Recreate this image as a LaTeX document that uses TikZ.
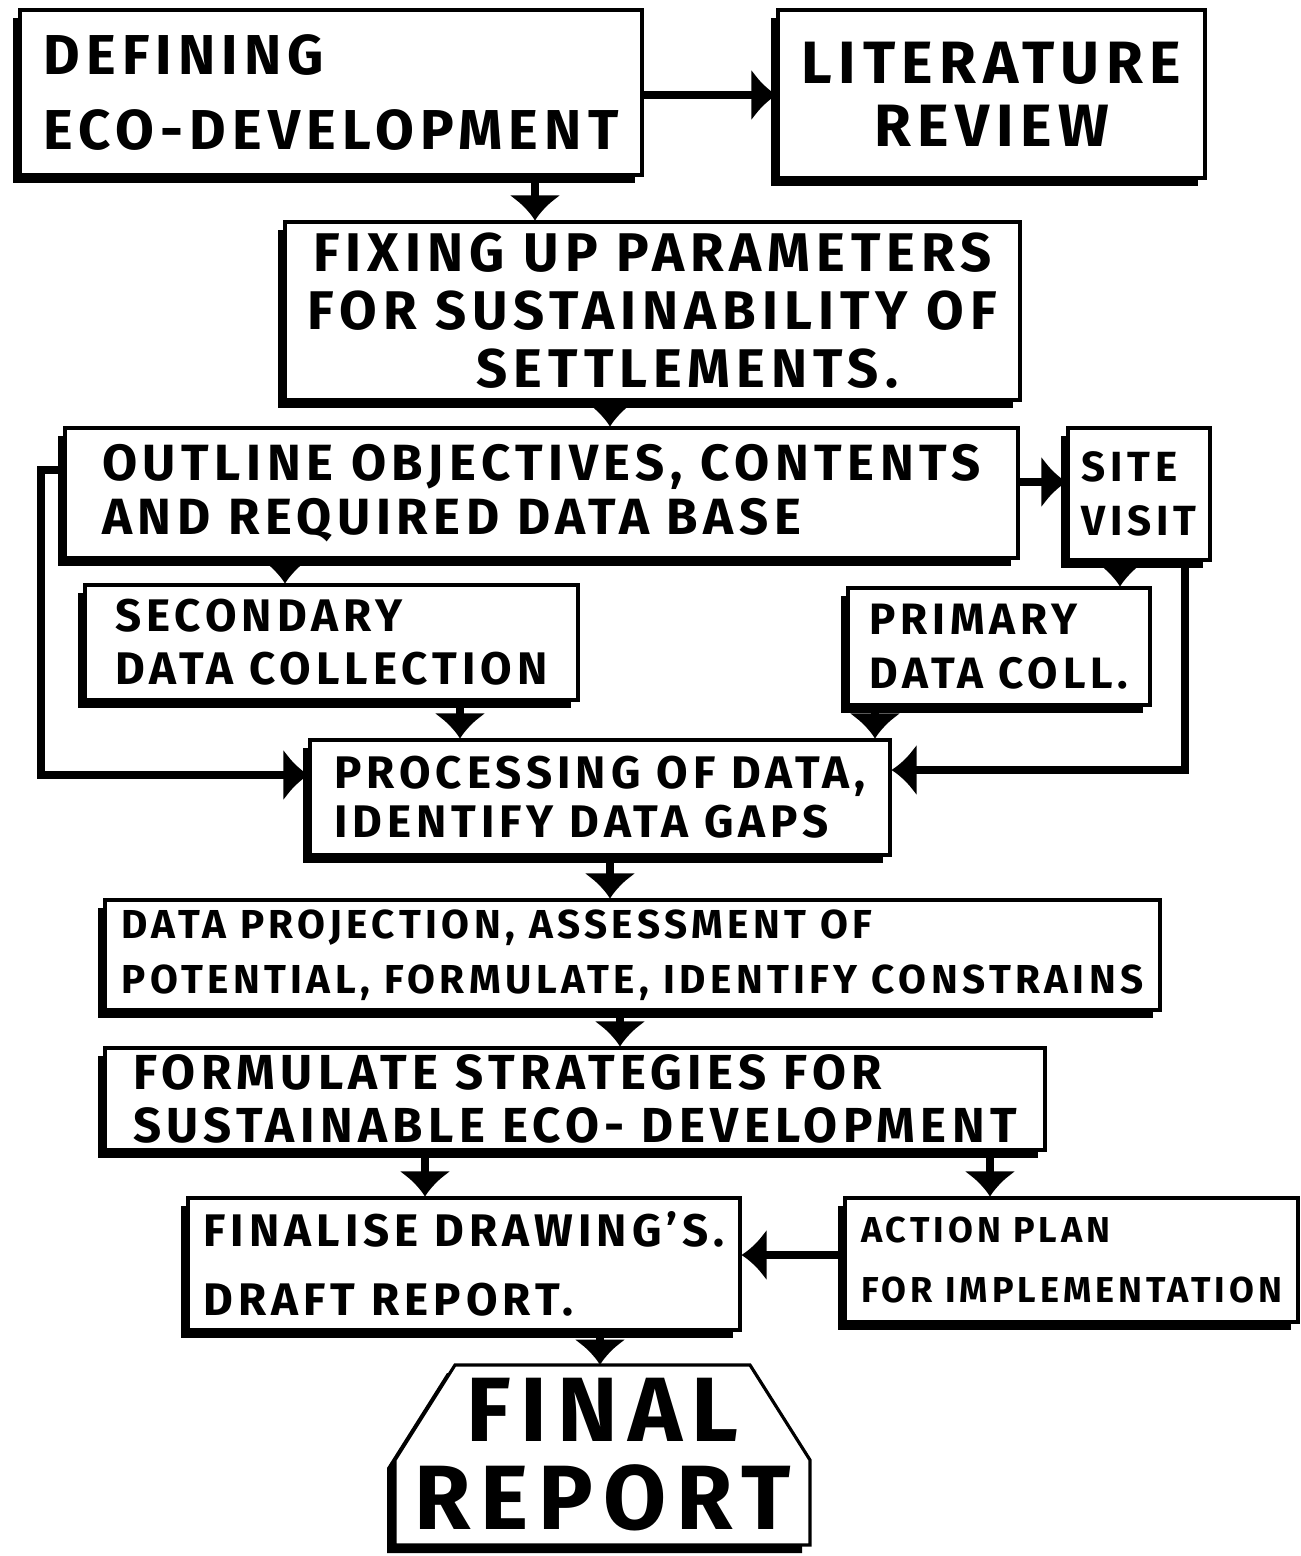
\documentclass[tikz,border=0pt]{standalone}
\usepackage{fontspec}
\setmainfont{Fira Sans}[LetterSpace=11]
\usepackage{tikz}
\usetikzlibrary{arrows.meta,shadows}

\begin{document}
\begin{tikzpicture}[
        stage/.style={draw, line width=1.8pt, fill=white, inner sep=0pt,
            drop shadow={shadow xshift=-0.14cm, shadow yshift=-0.16cm, opacity=1, fill=black}},
        flow/.style={line width=4.5pt, -{Latex[length=0.5cm,width=1.05cm]}}
    ]
        \useasboundingbox (0,0) rectangle (26.02,-31.12);
        \newcommand\Lsize[2]{\bfseries\fontsize{#1}{#2}\selectfont}
        \newcommand\Plate{(9.1,-27.3) -- (15.0,-27.3) -- (16.2,-29.2) -- (16.2,-30.9) -- (7.9,-30.9) -- (7.9,-29.2) -- cycle}

        \node[stage, minimum width=12.44cm, minimum height=3.3cm, align=left, font=\Lsize{32}{43}] (define) at (6.62,-1.85) {DEFINING\\ECO-DEVELOPMENT};
        \node[stage, minimum width=8.54cm, minimum height=3.36cm, align=center, font=\Lsize{34}{36}] (lit) at (19.83,-1.88) {LITERATURE\\REVIEW};
        \node[stage, minimum width=14.7cm, minimum height=3.56cm, align=center, font=\Lsize{31}{33}] (fix) at (13.05,-6.22) {FIXING UP PARAMETERS\\FOR SUSTAINABILITY OF\\\hspace*{1.4cm}SETTLEMENTS.};
        \node[stage, minimum width=19.06cm, minimum height=2.6cm, align=left, font=\Lsize{29}{31}] (outline) at (10.83,-9.86) {OUTLINE OBJECTIVES, CONTENTS\\AND REQUIRED DATA BASE};
        \node[stage, minimum width=2.84cm, minimum height=2.64cm, align=left, font=\Lsize{24}{31}] (site) at (22.78,-9.88) {SITE\\VISIT};
        \node[stage, minimum width=9.86cm, minimum height=2.3cm, align=left, font=\Lsize{26}{30}] (second) at (6.63,-12.85) {SECONDARY\\DATA COLLECTION};
        \node[stage, minimum width=6.04cm, minimum height=2.34cm, align=left, font=\Lsize{25}{31}] (primary) at (19.98,-12.93) {PRIMARY\\DATA COLL.};
        \node[stage, minimum width=11.6cm, minimum height=2.3cm, align=left, font=\Lsize{26}{28}] (proc) at (12.0,-15.95) {PROCESSING OF DATA,\\IDENTIFY DATA GAPS};
        \node[stage, minimum width=21.1cm, minimum height=2.2cm, align=left, font=\Lsize{23}{31}] (proj) at (12.65,-19.1) {DATA PROJECTION, ASSESSMENT OF\\POTENTIAL, FORMULATE, IDENTIFY CONSTRAINS};
        \node[stage, minimum width=18.8cm, minimum height=2.04cm, align=left, font=\Lsize{28}{30}] (strat) at (11.5,-21.98) {FORMULATE STRATEGIES FOR\\SUSTAINABLE ECO- DEVELOPMENT};
        \node[stage, minimum width=11.04cm, minimum height=2.64cm, align=left, font=\Lsize{26}{39}] (final) at (9.28,-25.28) {FINALISE DRAWING'S.\\DRAFT REPORT.};
        \node[stage, minimum width=9.06cm, minimum height=2.48cm, align=left, font=\Lsize{20.5}{34}] (action) at (21.43,-25.2) {ACTION PLAN\\FOR IMPLEMENTATION};

        \fill[black, xshift=-0.16cm, yshift=-0.16cm] \Plate;
        \filldraw[fill=white, line width=1.8pt] \Plate;
        \node[minimum width=8.3cm, minimum height=3.6cm, align=center, font=\Lsize{52}{50}] (report) at (12.05,-29.1) {FINAL\\REPORT};

        \draw[flow] (define.east |- 0,-1.9) -- (lit.west |- 0,-1.9);
        \draw[flow] (define.south -| 10.7,0) -- (fix.north -| 10.7,0);
        \draw[flow] (fix.south -| 12.2,0) -- (outline.north -| 12.2,0);
        \draw[flow] (outline.east |- 0,-9.64) -- (site.west |- 0,-9.64);
        \draw[flow] (outline.south -| 5.7,0) -- (second.north -| 5.7,0);
        \draw[flow] (site.south -| 22.4,0) -- (primary.north -| 22.4,0);
        \draw[flow] (second.south -| 9.2,0) -- (proc.north -| 9.2,0);
        \draw[flow] (primary.south -| 17.5,0) -- (proc.north -| 17.5,0);
        \draw[flow] (outline.west |- 0,-9.4) -- ++(-0.45,0) |- (proc.west |- 0,-15.5);
        \draw[flow] (site.south -| 23.7,0) |- (proc.east |- 0,-15.4);
        \draw[flow] (proc.south -| 12.2,0) -- (proj.north -| 12.2,0);
        \draw[flow] (proj.south -| 12.4,0) -- (strat.north -| 12.4,0);
        \draw[flow] (strat.south -| 8.5,0) -- (final.north -| 8.5,0);
        \draw[flow] (strat.south -| 19.8,0) -- (action.north -| 19.8,0);
        \draw[flow] (action.west |- 0,-25.1) -- (final.east |- 0,-25.1);
        \draw[flow] (final.south -| 12.0,0) -- (report.north -| 12.0,0);
    \end{tikzpicture}
\end{document}
